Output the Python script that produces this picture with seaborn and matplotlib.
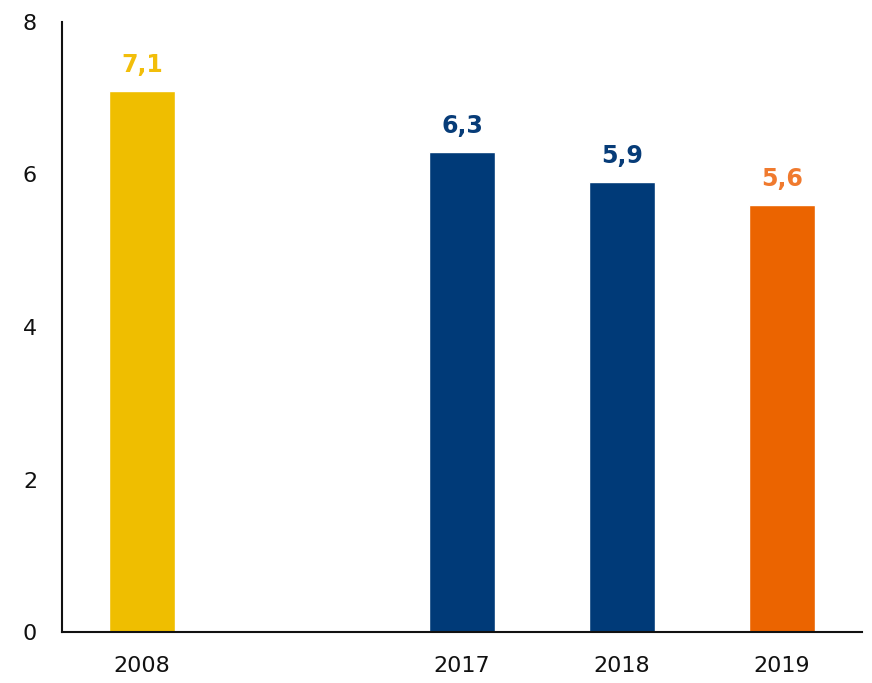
import matplotlib
matplotlib.use("Agg")
import matplotlib.pyplot as plt
import seaborn as sns
import pandas as pd

# data
years = ["2008", "2017", "2018", "2019"]
values = [7.1, 6.3, 5.9, 5.6]
order = ["2008", " ", "2017", "2018", "2019"]  # empty slot between 2008 and 2017
bar_colors = ["#EFBE00", "#003A78", "#003A78", "#EB6400"]
label_colors = ["#F2BE0A", "#073C78", "#073C78", "#F07A2E"]
y_ticks = [0, 2, 4, 6, 8]

df = pd.DataFrame({"year": years, "value": values})

sns.set_style("white")
plt.rcParams["font.family"] = ["DejaVu Sans"]

fig = plt.figure(figsize=(8.72, 6.83), dpi=100)
ax = fig.add_axes([62 / 872, 51 / 683, 800 / 872, 610 / 683])

sns.barplot(data=df, x="year", y="value", hue="year", order=order,
            palette=dict(zip(years, bar_colors)), width=0.41,
            legend=False, ax=ax, saturation=1)

ax.set_ylim(0, 8)
ax.set_xlim(-0.5, 4.5)
ax.set_yticks(y_ticks)
ax.set_yticklabels([str(t) for t in y_ticks])
ax.set_xlabel("")
ax.set_ylabel("")
ax.tick_params(axis="both", length=0, labelsize=16, colors="#111111")
ax.tick_params(axis="y", pad=18)
ax.tick_params(axis="x", pad=17)

for s in ["top", "right"]:
    ax.spines[s].set_visible(False)
for s in ["left", "bottom"]:
    ax.spines[s].set_color("#111111")
    ax.spines[s].set_linewidth(1.5)

for yr, v, c in zip(years, values, label_colors):
    ax.annotate(f"{v:.1f}".replace(".", ","), xy=(order.index(yr), v),
                xytext=(0, 10), textcoords="offset points",
                ha="center", va="bottom", fontsize=17, fontweight="bold", color=c)

fig.savefig("out.png", dpi=100)
